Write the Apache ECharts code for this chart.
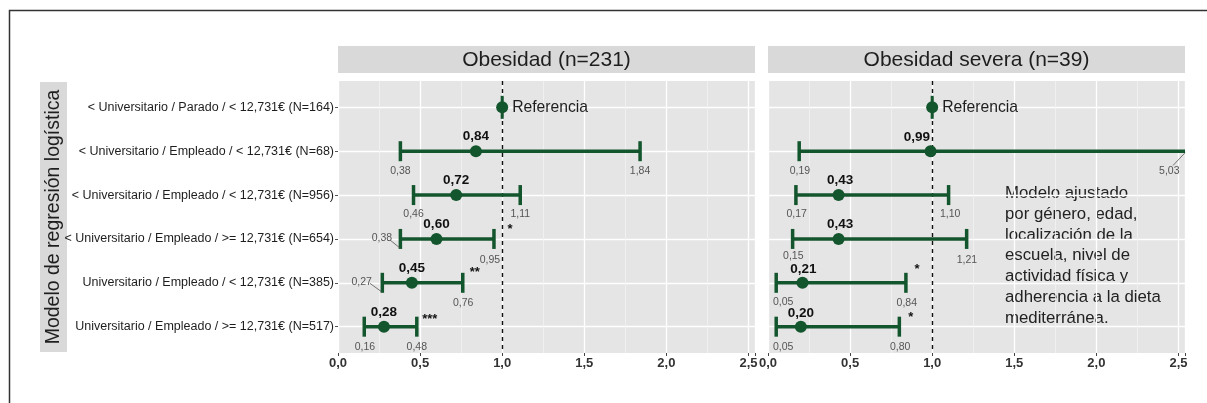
<!DOCTYPE html>
<html><head><meta charset="utf-8">
<script src="https://cdn.jsdelivr.net/npm/echarts@6/dist/echarts.min.js"></script>
<style>html,body{margin:0;padding:0;background:#fff}#c{width:1207px;height:403px}</style>
</head><body><div id="c"></div>
<script>
// ---------- DATA ----------
const categories = [
  '< Universitario / Parado / < 12,731€ (N=164)',
  '< Universitario / Empleado / < 12,731€ (N=68)',
  '< Universitario / Empleado / < 12,731€ (N=956)',
  '< Universitario / Empleado / >= 12,731€ (N=654)',
  'Universitario / Empleado / < 12,731€ (N=385)',
  'Universitario / Empleado / >= 12,731€ (N=517)'
];
const panelTitles = ['Obesidad (n=231)', 'Obesidad severa (n=39)'];
const obesidadOR   = [1, 0.84, 0.72, 0.60, 0.45, 0.28];
const obesidadLow  = [1, 0.38, 0.46, 0.38, 0.27, 0.16];
const obesidadHigh = [1, 1.84, 1.11, 0.95, 0.76, 0.48];
const obesidadSig  = ['', '', '', '*', '**', '***'];
const severaOR     = [1, 0.99, 0.43, 0.43, 0.21, 0.20];
const severaLow    = [1, 0.19, 0.17, 0.15, 0.05, 0.05];
const severaHigh   = [1, 5.03, 1.10, 1.21, 0.84, 0.80];
const severaSig    = ['', '', '', '', '*', '*'];
const xTickValues  = [0, 0.5, 1, 1.5, 2, 2.5];
const referenceValue = 1;
const referenceText = 'Referencia';
const yTitle = 'Modelo de regresión logística';
const noteText = 'Modelo ajustado\npor género, edad,\nlocalización de la\nescuela, nivel de\nactividad física y\nadherencia a la dieta\nmediterránea.';

// ---------- LAYOUT / STYLE ----------
const FONT = '"Liberation Sans", Arial, Helvetica, sans-serif';
const GREEN = '#13552d';
const GRIDS = [{left: 338, top: 81, width: 417, height: 272}, {left: 768, top: 81, width: 417, height: 272}];
// label offsets (px) relative to anchor points (repelled label placement)
const labelLayout = [
  {
    val:  [null, [0,-14.5], [0,-15], [0,-14.5], [0,-15], [0,-14]],
    low:  [null, [0,20], [0,19.5], [-18.5,-1], [-20.7,-1], [0.7,20]],
    lowLead: [null, null, null, [[-10.5,1],[-0.5,9]], [[-12.4,0.5],[-0.7,9]], null],
    high: [null, [0,20], [0,19.5], [-4,20.7], [0.4,20], [0,20]],
    highLead: [null, null, null, null, null, null],
    sig:  [null, null, null, [16,-12.6], [12,-13.4], [13,-10]]
  },
  {
    val:  [null, [-13.7,-14.4], [1.5,-15], [1.5,-14.3], [1,-13.4], [0,-13.4]],
    low:  [null, [0.8,20], [0.8,19.3], [0.7,17.4], [7,19], [7,20]],
    lowLead: [null, null, null, null, null, null],
    high: [null, [-15.7,20], [1.6,19.3], [0.3,20.7], [0.9,20], [0.8,20]],
    highLead: [null, [[-12,14.3],[0,1.6]], null, null, null, null],
    sig:  [null, null, null, null, [11,-16], [11.5,-12.7]]
  }
];

const ors = [obesidadOR, severaOR], lows = [obesidadLow, severaLow], highs = [obesidadHigh, severaHigh], sigs = [obesidadSig, severaSig];
const fmt = v => v.toFixed(2).replace('.', ',');

function makeRender(p) {
  const L = labelLayout[p];
  return function (params, api) {
    const i = params.dataIndex;
    const row = api.value(1);
    const y = api.coord([0, row])[1];
    const cs = params.coordSys;
    const right = cs.x + cs.width;
    const xe = api.coord([api.value(0), row])[0];
    const xl = api.coord([api.value(2), row])[0];
    let xh = api.coord([api.value(3), row])[0];
    const clipped = xh > right; if (clipped) xh = right;
    const ch = [];
    const ln = (x1, y1, x2, y2, w, c) => ({type: 'line', shape: {x1, y1, x2, y2}, style: {stroke: c || GREEN, lineWidth: w}});
    const tx = (x, y, t, size, weight, fill, align) => ({type: 'text', x, y, style: {text: t, fontFamily: FONT, fontSize: size, fontWeight: weight, fill, align: align || 'center', verticalAlign: 'middle'}});
    if (i === 0) {
      ch.push(ln(xe, y - 11.5, xe, y + 11.5, 3));
      ch.push(tx(xe + 10, y, referenceText, 15.7, 'normal', '#1e1e1e', 'left'));
    } else {
      ch.push(ln(xl, y, xh, y, 3.5));
      ch.push(ln(xl, y - 10, xl, y + 10, 3.5));
      if (!clipped) ch.push(ln(xh, y - 10, xh, y + 10, 3.5));
      const v = L.val[i];
      ch.push(tx(xe + v[0], y + v[1], fmt(ors[p][i]), 13.5, 'bold', '#111'));
      const lo = L.low[i];
      ch.push(tx(xl + lo[0], y + lo[1], fmt(lows[p][i]), 10.5, 'normal', '#555'));
      const hi = L.high[i];
      ch.push(tx(xh + hi[0], y + hi[1], fmt(highs[p][i]), 10.5, 'normal', '#555'));
      const ll = L.lowLead[i];
      if (ll) ch.push(ln(xl + ll[0][0], y + ll[0][1], xl + ll[1][0], y + ll[1][1], 0.8, '#555'));
      const hl = L.highLead[i];
      if (hl) ch.push(ln(xh + hl[0][0], y + hl[0][1], xh + hl[1][0], y + hl[1][1], 0.8, '#555'));
      const s = sigs[p][i];
      if (s) { const so = L.sig[i]; ch.push(tx(xh + so[0], y + so[1] + 3, s, 13, 'bold', '#111')); }
    }
    return {type: 'group', children: ch};
  };
}

const chart = echarts.init(document.getElementById('c'), null, {renderer: 'canvas'});

const xAxes = GRIDS.map((g, k) => ({
  type: 'value', gridIndex: k, min: 0, max: 2.54, interval: 0.5,
  axisLine: {show: false},
  axisTick: {show: true, length: 3, lineStyle: {color: '#444', width: 1}},
  minorTick: {show: false, splitNumber: 2},
  splitLine: {show: true, lineStyle: {color: '#ffffff', width: 1.3}},
  minorSplitLine: {show: true, lineStyle: {color: '#f2f2f2', width: 0.8}},
  axisLabel: {
    margin: 4, fontFamily: FONT, fontSize: 13, fontWeight: 'bold', color: '#333',
    formatter: v => xTickValues.some(t => Math.abs(t - v) < 1e-6) ? v.toFixed(1).replace('.', ',') : ''
  }
}));
const yAxes = GRIDS.map((g, k) => ({
  type: 'value', gridIndex: k, min: 0.4, max: 6.6, inverse: true, splitNumber: 6,
  axisLine: {show: false},
  axisTick: {show: k === 0, length: 3, customValues: [1,2,3,4,5,6], lineStyle: {color: '#555'}},
  splitLine: {show: true, lineStyle: {color: '#ffffff', width: 1.3}},
  axisLabel: {
    show: k === 0, margin: 4, fontFamily: FONT, fontSize: 12.5, color: '#1e1e1e',
    customValues: [1,2,3,4,5,6],
    formatter: v => (Math.abs(v - Math.round(v)) < 1e-6 && v >= 1 && v <= 6) ? categories[Math.round(v) - 1] : ''
  }
}));

const series = [];
[0, 1].forEach(p => {
  series.push({
    type: 'custom', xAxisIndex: p, yAxisIndex: p, silent: true,
    renderItem: makeRender(p),
    encode: {x: 0, y: 1},
    data: ors[p].map((v, i) => [v, i + 1, lows[p][i], highs[p][i]]),
    z: 3
  });
  series.push({
    type: 'scatter', xAxisIndex: p, yAxisIndex: p, silent: true,
    symbol: 'circle', symbolSize: 12, itemStyle: {color: GREEN, opacity: 1},
    data: ors[p].map((v, i) => [v, i + 1]),
    z: 4,
    markLine: {
      silent: true, symbol: ['none', 'none'], label: {show: false},
      lineStyle: {color: '#111', type: [4, 4], width: 1.4},
      data: [{xAxis: referenceValue}], z: 2
    }
  });
});

const graphic = [
  {type: 'polyline', shape: {points: [[9.5, 403], [9.5, 10.5], [1207, 10.5]]}, style: {stroke: '#333', lineWidth: 1.5, fill: null}},
  {type: 'rect', shape: {x: 40, y: 82, width: 27, height: 270}, style: {fill: '#d9d9d9'}},
  {type: 'text', x: 54, y: 217, rotation: Math.PI / 2, style: {text: yTitle, fontFamily: FONT, fontSize: 19.5, fill: '#1e1e1e', align: 'center', verticalAlign: 'middle'}},
  {type: 'text', left: 1005, top: 183, style: {text: noteText, fontFamily: FONT, fontSize: 16.8, lineHeight: 20.8, fill: '#222'}}
];
GRIDS.forEach((g, k) => {
  graphic.push({type: 'rect', shape: {x: g.left, y: 46, width: g.width, height: 27}, style: {fill: '#d9d9d9'}});
  graphic.push({type: 'text', x: g.left + g.width / 2, y: 60, style: {text: panelTitles[k], fontFamily: FONT, fontSize: 21, fill: '#1e1e1e', align: 'center', verticalAlign: 'middle'}});
});

chart.setOption({
  animation: false,
  backgroundColor: '#ffffff',
  grid: GRIDS.map(g => ({left: g.left, top: g.top, width: g.width, height: g.height, show: true, backgroundColor: '#e5e5e5', borderWidth: 0})),
  xAxis: xAxes,
  yAxis: yAxes,
  series,
  graphic
});
</script>
</body></html>
